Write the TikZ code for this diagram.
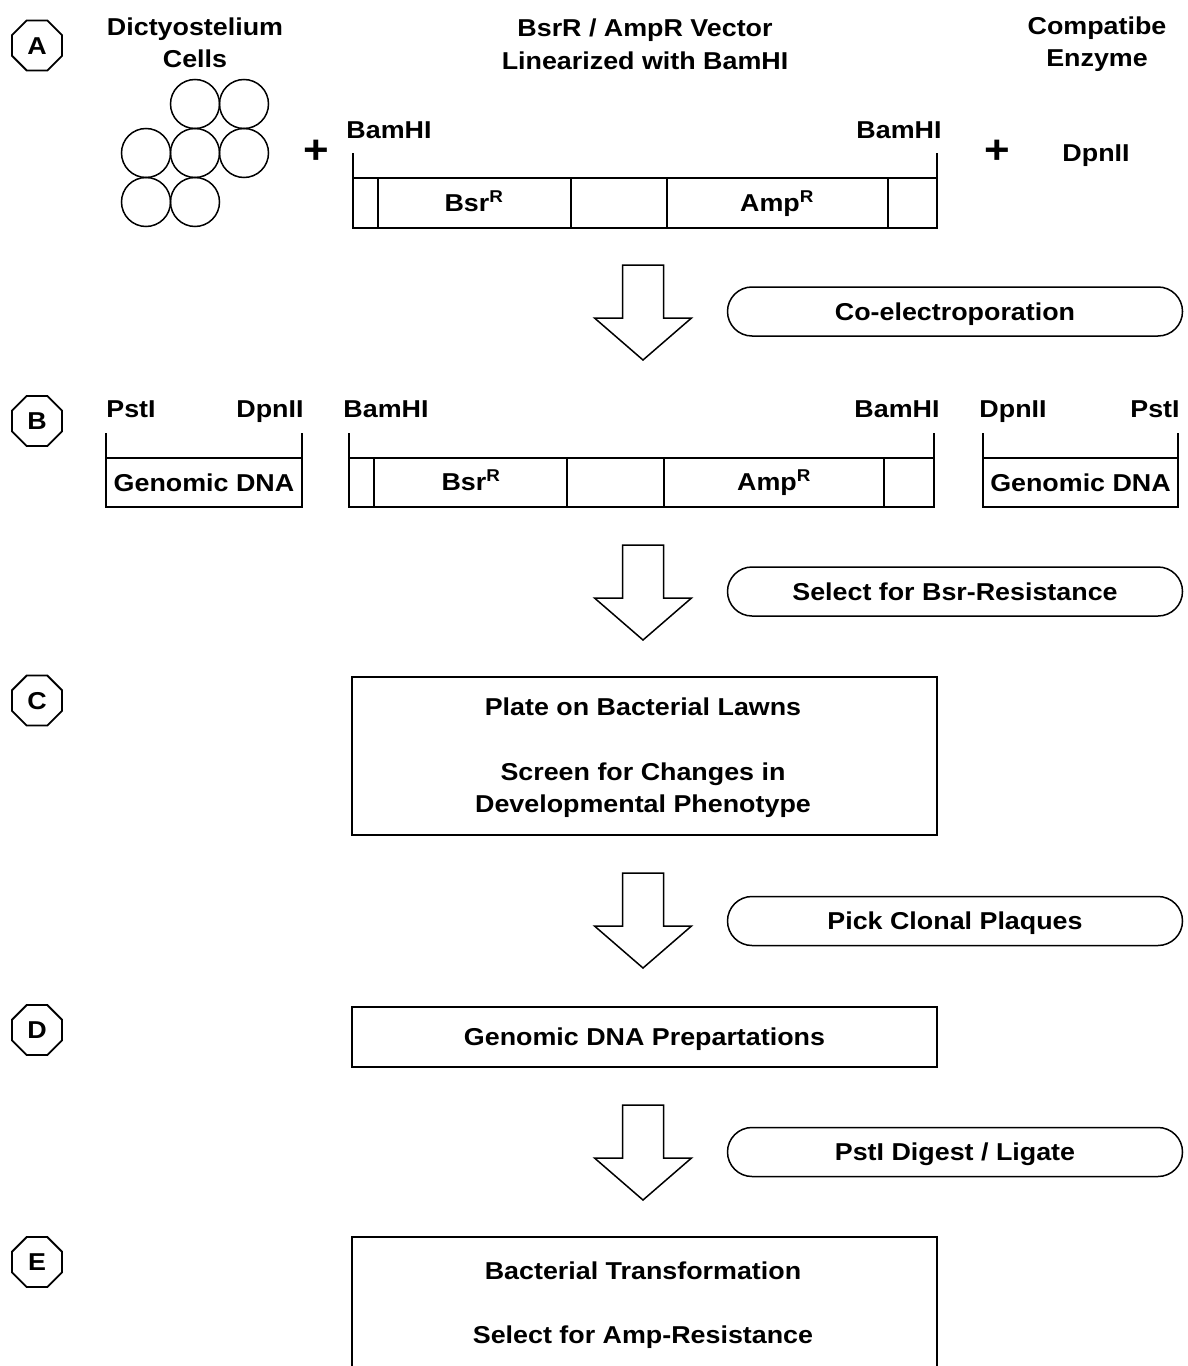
\documentclass[tikz,border=0pt]{standalone}
\usepackage{fontspec}
\setmainfont[FakeStretch=1.1]{Liberation Sans}
\usetikzlibrary{shapes.geometric}
\newcommand\blockarr[2]{\draw[lw] (#1-20.5,#2) -- (#1+20.5,#2) -- (#1+20.5,#2+53) -- (#1+48.5,#2+53) -- (#1,#2+95) -- (#1-48.5,#2+53) -- (#1-20.5,#2+53) -- cycle;}
\begin{document}
\begin{tikzpicture}[x=1bp,y=-1bp,
  every node/.style={inner sep=0pt, outer sep=0pt},
  lw/.style={line width=1.5bp, line join=miter},
  lbl/.style={font=\fontsize{24.5}{29}\selectfont\bfseries, text height=17.5bp, text depth=0pt},
  plus/.style={font=\fontsize{40}{40}\selectfont\bfseries},
  octa/.style={draw, line width=1.8bp, regular polygon, regular polygon sides=8, minimum size=54bp, lbl},
  cell/.style={draw, line width=1.5bp, circle, minimum size=49bp},
  strip/.style={draw, lw, rectangle},
  pill/.style={draw, lw, rectangle, rounded corners=24.5bp, minimum width=455bp, minimum height=49bp, lbl},
  stepbox/.style={draw, lw, rectangle, minimum width=585bp}
]
\useasboundingbox (0,0) rectangle (1187,1366);
\clip (0,0) rectangle (1187,1366);
\fill[white] (0,0) rectangle (1187,1366);

% ---------- A ----------
\node[octa] (oA) at (37,45.5) {A};
\node[lbl] (tA1) at (195,26.5) {Dictyostelium};
\node[lbl] (tA2) at (195,58.5) {Cells};
\node[lbl] (tV1) at (645,28) {BsrR / AmpR Vector};
\node[lbl] (tV2) at (645,61) {Linearized with BamHI};
\node[lbl] (tE1) at (1097,26) {Compatibe};
\node[lbl] (tE2) at (1097,58) {Enzyme};

\node[cell] (c1) at (195,104) {};
\node[cell] (c2) at (244,104) {};
\node[cell] (c3) at (146,153) {};
\node[cell] (c4) at (195,153) {};
\node[cell] (c5) at (244,153) {};
\node[cell] (c6) at (146,202) {};
\node[cell] (c7) at (195,202) {};

\node[plus] (p1) at (316,152) {+};
\node[plus] (p2) at (997,152) {+};
\node[lbl] (dpA) at (1096,153) {DpnII};

\node[strip, minimum width=584bp, minimum height=50bp] (vA) at (645,203) {};
\foreach \dx in {25,218,314,535}
  \draw[lw] ([xshift=\dx bp]vA.north west) -- ([xshift=\dx bp]vA.south west);
\draw[lw] (vA.north west) -- ++(0,-25);
\draw[lw] (vA.north east) -- ++(0,-25);
\node[lbl] (bA1) at (389,130) {BamHI};
\node[lbl] (bA2) at (899,130) {BamHI};
\node[lbl] (bsrA) at (474,203) {Bsr\textsuperscript{R}};
\node[lbl] (ampA) at (777,203) {Amp\textsuperscript{R}};

\blockarr{643}{265}
\node[pill] (s1) at (955,311.5) {Co-electroporation};

% ---------- B ----------
\node[octa] (oB) at (37,421) {B};
\node[strip, minimum width=196bp, minimum height=49bp, lbl] (gL) at (204,482.5) {Genomic DNA};
\draw[lw] (gL.north west) -- ++(0,-25);
\draw[lw] (gL.north east) -- ++(0,-25);
\node[lbl] (pL) at (131,409) {PstI};
\node[lbl] (dL) at (270,409) {DpnII};

\node[strip, minimum width=585bp, minimum height=49bp] (vB) at (641.5,482.5) {};
\foreach \dx in {25,218,315,535}
  \draw[lw] ([xshift=\dx bp]vB.north west) -- ([xshift=\dx bp]vB.south west);
\draw[lw] (vB.north west) -- ++(0,-25);
\draw[lw] (vB.north east) -- ++(0,-25);
\node[lbl] (bB1) at (386,409) {BamHI};
\node[lbl] (bB2) at (897,409) {BamHI};
\node[lbl] (bsrB) at (471,482) {Bsr\textsuperscript{R}};
\node[lbl] (ampB) at (774,482) {Amp\textsuperscript{R}};

\node[strip, minimum width=195bp, minimum height=49bp, lbl] (gR) at (1080.5,482.5) {Genomic DNA};
\draw[lw] (gR.north west) -- ++(0,-25);
\draw[lw] (gR.north east) -- ++(0,-25);
\node[lbl] (dR) at (1013,409) {DpnII};
\node[lbl] (pR) at (1155,409) {PstI};

\blockarr{643}{545}
\node[pill] (s2) at (955,591.5) {Select for Bsr-Resistance};

% ---------- C ----------
\node[octa] (oC) at (37,700.5) {C};
\node[stepbox, minimum height=158bp] (bC) at (644.5,756) {};
\node[lbl] (tC1) at (643,707) {Plate on Bacterial Lawns};
\node[lbl] (tC2) at (643,772) {Screen for Changes in};
\node[lbl] (tC3) at (643,804) {Developmental Phenotype};

\blockarr{643}{873}
\node[pill] (s3) at (955,921) {Pick Clonal Plaques};

% ---------- D ----------
\node[octa] (oD) at (37,1030) {D};
\node[stepbox, minimum height=60bp, lbl] (bD) at (644.5,1037) {Genomic DNA Prepartations};

\blockarr{643}{1105}
\node[pill] (s4) at (955,1152) {PstI Digest / Ligate};

% ---------- E ----------
\node[octa] (oE) at (37,1262) {E};
\node[stepbox, minimum height=170bp] (bE) at (644.5,1322) {};
\node[lbl] (tE3) at (643,1271) {Bacterial Transformation};
\node[lbl] (tE4) at (643,1335) {Select for Amp-Resistance};
\end{tikzpicture}
\end{document}
